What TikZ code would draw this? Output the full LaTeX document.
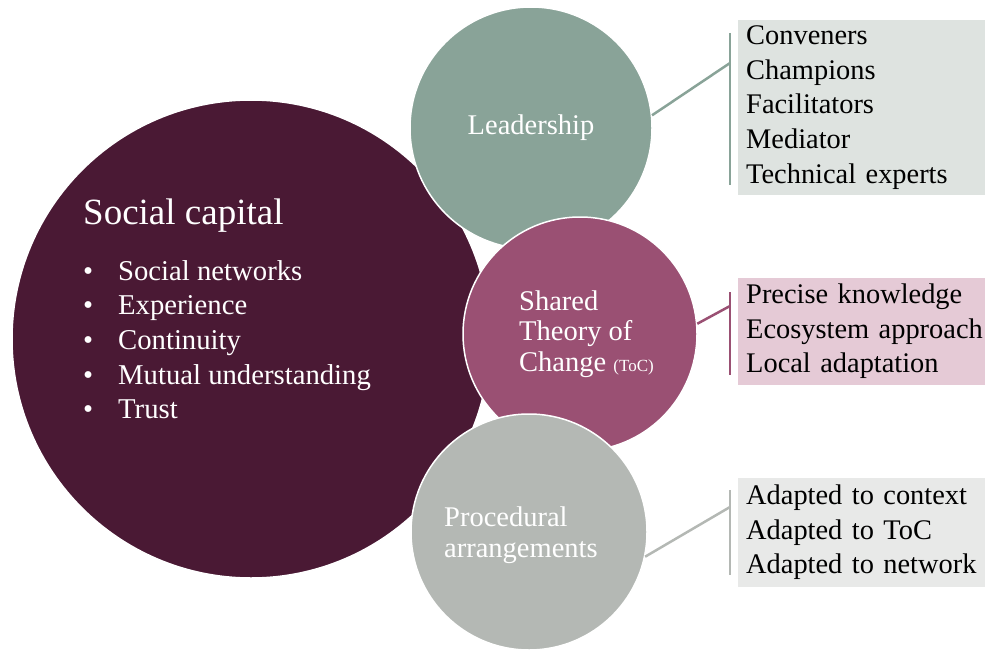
\documentclass[tikz,border=0pt]{standalone}
\usepackage{fontspec}
\setmainfont{Liberation Serif}
\usepackage{xcolor}
\usetikzlibrary{positioning,calc}

\definecolor{capitalc}{HTML}{4A1934}
\definecolor{leadc}{HTML}{89A398}
\definecolor{tocc}{HTML}{9A5073}
\definecolor{procc}{HTML}{B4B8B4}
\definecolor{leadbox}{HTML}{DEE3E0}
\definecolor{tocbox}{HTML}{E5CAD6}
\definecolor{procbox}{HTML}{E8E9E8}

\tikzset{
    bubble/.style={circle, draw=white, line width=1.5pt, inner sep=0pt},
    bubbletext/.style={text=white, align=left, inner sep=0pt, font=\fontsize{28.5}{30.5}\selectfont},
    listbox/.style={anchor=west, minimum width=247pt, text width=239pt, inner xsep=8pt, align=left,
        font=\fontsize{28.4}{34.6}\selectfont},
    bracket/.style={line width=2.5pt}
}

\begin{document}
\begin{tikzpicture}[x=1pt, y=-1pt]
    \useasboundingbox (0,0) rectangle (985,650);

    % Circles
    \node[bubble, fill=capitalc, minimum size=478pt] (capital) at (251,339) {};
    \node[bubble, fill=leadc, minimum size=242pt] (lead) at (531,128) {};
    \node[bubble, fill=tocc, minimum size=234pt] (toc) at (580,334) {};
    \node[bubble, fill=procc, minimum size=236pt] (proc) at (529,532) {};

    % Circle labels
    \node[bubbletext] (leadlabel) at (lead) {Leadership};
    \node[bubbletext, anchor=west] (toclabel) at (519,334)
        {Shared\\Theory of\\Change {\fontsize{17}{18}\selectfont(ToC)}};
    \node[bubbletext, anchor=west] (proclabel) at (444,535) {Procedural\\arrangements};

    % Social capital text
    \node[anchor=west, text=white, font=\fontsize{37}{40}\selectfont, inner sep=0pt] (title) at (83,216) {Social capital};
    \node[anchor=north west, text=white, align=left, inner sep=0pt, font=\fontsize{28.7}{34.7}\selectfont] (items)
        at (83,260) {\makebox[35pt][l]{\textbullet}Social networks\\
                     \makebox[35pt][l]{\textbullet}Experience\\
                     \makebox[35pt][l]{\textbullet}Continuity\\
                     \makebox[35pt][l]{\textbullet}Mutual understanding\\
                     \makebox[35pt][l]{\textbullet}Trust};

    % Boxes with lists
    \node[listbox, fill=leadbox, minimum height=175pt] (leadlist) at (738,107.5)
        {Conveners\\Champions\\Facilitators\\Mediator\\Technical experts};
    \node[listbox, fill=tocbox, minimum height=107pt] (toclist) at (738,331.5)
        {Precise knowledge\\Ecosystem approach\\Local adaptation};
    \node[listbox, fill=procbox, minimum height=109pt] (proclist) at (738,532.5)
        {Adapted to context\\Adapted to ToC\\Adapted to network};

    % Brackets
    \coordinate (leadtop) at (730,33);
    \coordinate (leadbot) at (730,185);
    \coordinate (leadjoin) at (730,63);
    \draw[bracket, leadc] (leadtop) -- (leadbot);
    \draw[bracket, leadc] (lead.6) -- (leadjoin);

    \coordinate (toctop) at (730,292);
    \coordinate (tocbot) at (730,375);
    \coordinate (tocjoin) at (730,306);
    \draw[bracket, tocc] (toctop) -- (tocbot);
    \draw[bracket, tocc] (toc.5) -- (tocjoin);

    \coordinate (proctop) at (730,490);
    \coordinate (procbot) at (730,575);
    \coordinate (procjoin) at (730,507);
    \draw[bracket, procc] (proctop) -- (procbot);
    \draw[bracket, procc] (proc.-12) -- (procjoin);
\end{tikzpicture}
\end{document}
